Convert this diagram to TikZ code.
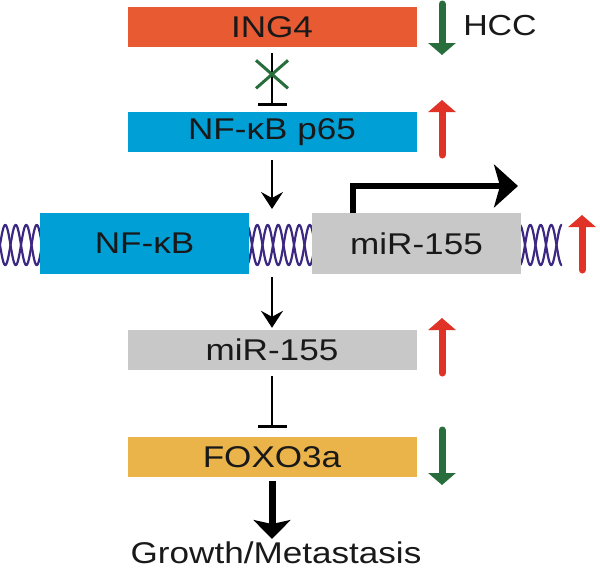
\documentclass[tikz,border=0pt]{standalone}
\usepackage{fontspec}
\usepackage{graphicx}
\setmainfont{Liberation Sans}
\usetikzlibrary{arrows.meta,calc}
\definecolor{cOrange}{RGB}{232,90,50}
\definecolor{cBlue}{RGB}{0,160,215}
\definecolor{cGray}{RGB}{200,200,200}
\definecolor{cGold}{RGB}{235,180,75}
\definecolor{cGreen}{RGB}{40,110,60}
\definecolor{cRed}{RGB}{225,50,40}
\definecolor{cPurple}{RGB}{60,40,130}
\definecolor{cText}{RGB}{25,25,25}
\newcommand\sxt[1]{\scalebox{1.17}[1]{#1}}
\tikzset{
  box/.style={rectangle, inner sep=0pt, minimum width=289pt, minimum height=40pt,
    text=cText, font=\fontsize{30}{32}\selectfont},
  genebox/.style={rectangle, inner sep=0pt, minimum width=209pt, minimum height=61pt,
    text=cText, font=\fontsize{30}{32}\selectfont},
  thinarr/.style={line width=2pt, -{Stealth[length=17pt,width=22pt,inset=6pt]}},
  inhib/.style={line width=2pt, -{Bar[width=29pt,line width=2.5pt]}},
  uparr/.style={line width=7pt, line cap=round, -{Triangle[length=12pt,width=27pt]}},
  helix/.style={cPurple, line width=2.2pt},
}
\begin{document}
\begin{tikzpicture}[x=1pt,y=-1pt]
\useasboundingbox (0,0) rectangle (600,571);
% helix
\foreach \a/\b in {0/42, 247/314, 519/562}{
  \draw[helix] plot[domain=\a:\b, samples=120, smooth] (\x,{245+20*sin(\x*17.142857)});
  \draw[helix] plot[domain=\a:\b, samples=120, smooth] (\x,{245-20*sin(\x*17.142857)});
}
% boxes
\node[box, fill=cOrange] (ing4) at (272,27) {\sxt{ING4}};
\node[box, fill=cBlue] (p65) at (272,132) {\sxt{NF-\char"03BA B p65}};
\node[genebox, fill=cBlue] (nfkb) at (144.5,243.5) {\sxt{NF-\char"03BA B}};
\node[genebox, fill=cGray] (gene) at (416.5,243.5) {\sxt{miR-155}};
\node[box, fill=cGray] (mir) at (272,350) {\sxt{miR-155}};
\node[box, fill=cGold] (foxo) at (272,457) {\sxt{FOXO3a}};
\node[text=cText, font=\fontsize{30}{34}\selectfont] (growth) at (276,553) {\sxt{Growth/Metastasis}};
\node[text=cText, font=\fontsize{29}{32}\selectfont] (hcc) at (500,26) {\sxt{HCC}};
% connectors
\draw[inhib, shorten <=6pt, shorten >=6pt] (ing4.south) -- coordinate[pos=0.42] (xmark) (p65.north);
\draw[cGreen, line width=3pt] ($(xmark)+(-16,-14)$) -- ($(xmark)+(16,14)$)
  ($(xmark)+(-16,14)$) -- ($(xmark)+(16,-14)$);
\coordinate (dnatop) at (272,209);
\coordinate (dnabot) at (272,277);
\draw[thinarr, shorten <=8pt] (p65.south) -- (dnatop);
\draw[thinarr, shorten >=2pt] (dnabot) -- (mir.north);
\draw[inhib, shorten <=6pt, shorten >=9pt] (mir.south) -- (foxo.north);
\draw[line width=7pt, -{Stealth[length=19pt,width=37pt,inset=4pt]}, shorten <=4pt] (foxo.south) -- (272,539);
% promoter arrow
\coordinate (promend) at (518,186);
\draw[line width=6pt, -{Stealth[length=24pt,width=43pt,inset=6pt]}] ([xshift=41pt]gene.north west) |- (promend);
% indicator arrows
\draw[uparr, cGreen] (442,4) -- (442,55);
\draw[uparr, cRed] (442,155) -- (442,100);
\draw[uparr, cRed] (582,270) -- (582,215);
\draw[uparr, cRed] (442,373) -- (442,318);
\draw[uparr, cGreen] (442,430) -- (442,485);
\end{tikzpicture}
\end{document}
